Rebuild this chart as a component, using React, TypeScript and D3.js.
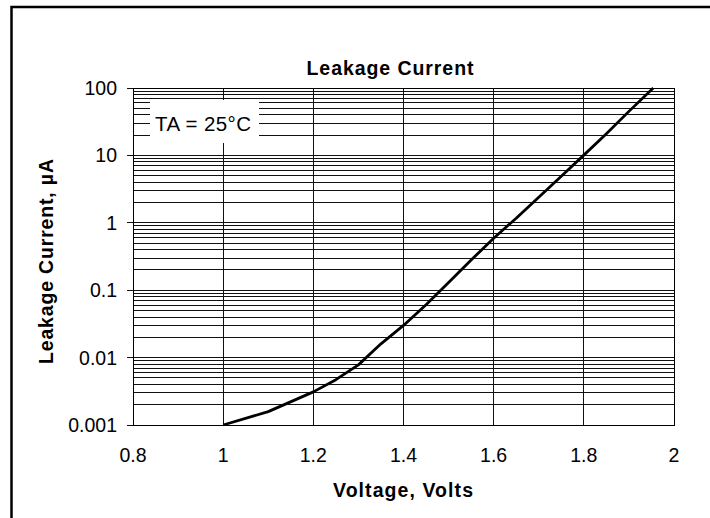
import React, { useEffect, useRef } from "react";
import * as d3 from "d3";

// leakage current vs voltage
const voltage = [1.0, 1.1, 1.2, 1.25, 1.3, 1.35, 1.4, 1.45, 1.5, 1.55, 1.6, 1.65, 1.7, 1.75, 1.8, 1.85, 1.9, 1.954];
const currentUA = [0.001, 0.00158, 0.0031, 0.0047, 0.0078, 0.016, 0.030, 0.061, 0.13, 0.28, 0.59, 1.17, 2.4, 4.9, 10.1, 21, 45, 100];

const xTicks = [0.8, 1, 1.2, 1.4, 1.6, 1.8, 2];
const yTicks = [0.001, 0.01, 0.1, 1, 10, 100];
const yTickLabels = ["0.001", "0.01", "0.1", "1", "10", "100"];

const title = "Leakage Current";
const xTitle = "Voltage, Volts";
const yTitle = "Leakage Current, \u00b5A";
const note = "TA = 25\u00b0C";

const FONT = "'Liberation Sans', Arial, sans-serif";

const App = () => {
  const ref = useRef<SVGSVGElement | null>(null);

  useEffect(() => {
    const svg = d3.select(ref.current);
    svg.selectAll("*").remove();

    const left = 133, right = 674, top = 88, bottom = 425;

    const x = d3.scaleLinear().domain([0.8, 2]).range([left, right]);
    const y = d3.scaleLog().domain([0.001, 100]).range([bottom, top]);

    // outer frame (right / bottom edges fall off the picture)
    svg.append("rect")
      .attr("x", 11.5).attr("y", 7)
      .attr("width", 800).attr("height", 600)
      .attr("fill", "white")
      .attr("stroke", "#000")
      .attr("stroke-width", 2.5);

    const grid = svg.append("g")
      .attr("stroke", "#111")
      .attr("stroke-width", 1)
      .attr("shape-rendering", "crispEdges");

    // horizontal grid, every 1..9 of each decade
    grid.selectAll("line.h")
      .data(y.ticks())
      .enter()
      .append("line")
        .attr("x1", left).attr("x2", right)
        .attr("y1", (d) => y(d)).attr("y2", (d) => y(d));

    // vertical grid
    grid.selectAll("line.v")
      .data(xTicks)
      .enter()
      .append("line")
        .attr("x1", (d) => x(d)).attr("x2", (d) => x(d))
        .attr("y1", top).attr("y2", bottom);

    // y axis ticks (outside)
    grid.selectAll("line.t")
      .data(yTicks)
      .enter()
      .append("line")
        .attr("x1", left - 6).attr("x2", left)
        .attr("y1", (d) => y(d)).attr("y2", (d) => y(d));

    // plot border
    svg.append("rect")
      .attr("x", left).attr("y", top)
      .attr("width", right - left).attr("height", bottom - top)
      .attr("fill", "none")
      .attr("stroke", "#000")
      .attr("shape-rendering", "crispEdges");

    // note box
    svg.append("rect")
      .attr("x", 150).attr("y", 100)
      .attr("width", 109).attr("height", 43)
      .attr("fill", "white");
    svg.append("text")
      .attr("x", 155).attr("y", 130.5)
      .attr("font-family", FONT)
      .attr("font-size", 20.5)
      .attr("textLength", 96)
      .attr("lengthAdjust", "spacing")
      .text(note);

    // curve
    const pts: [number, number][] = voltage.map((v, i) => [v, currentUA[i]]);
    const line = d3.line<[number, number]>()
      .x((d) => x(d[0]))
      .y((d) => y(d[1]));
    svg.append("path")
      .datum(pts)
      .attr("d", line)
      .attr("fill", "none")
      .attr("stroke", "#000")
      .attr("stroke-width", 2.8)
      .attr("stroke-linejoin", "round");

    // tick labels
    svg.append("g")
      .selectAll("text")
      .data(yTicks)
      .enter()
      .append("text")
        .attr("x", 117)
        .attr("y", (d) => y(d) + 7)
        .attr("text-anchor", "end")
        .attr("font-family", FONT)
        .attr("font-size", 19.5)
        .text((d, i) => yTickLabels[i]);

    svg.append("g")
      .selectAll("text")
      .data(xTicks)
      .enter()
      .append("text")
        .attr("x", (d) => x(d))
        .attr("y", 462)
        .attr("text-anchor", "middle")
        .attr("font-family", FONT)
        .attr("font-size", 19.5)
        .text((d) => String(d));

    // titles
    svg.append("text")
      .attr("x", 306.5).attr("y", 75)
      .attr("font-family", FONT)
      .attr("font-weight", "bold")
      .attr("font-size", 19.5)
      .attr("textLength", 167)
      .attr("lengthAdjust", "spacing")
      .text(title);

    svg.append("text")
      .attr("x", 333).attr("y", 497)
      .attr("font-family", FONT)
      .attr("font-weight", "bold")
      .attr("font-size", 19.5)
      .attr("textLength", 140)
      .attr("lengthAdjust", "spacing")
      .text(xTitle);

    svg.append("text")
      .attr("transform", "translate(53,364) rotate(-90)")
      .attr("font-family", FONT)
      .attr("font-weight", "bold")
      .attr("font-size", 19.5)
      .attr("textLength", 205)
      .attr("lengthAdjust", "spacing")
      .text(yTitle);
  }, []);

  return (
    <svg
      ref={ref}
      width={710}
      height={518}
      style={{ position: "absolute", left: 0, top: 0, background: "white" }}
    />
  );
};

export default App;
